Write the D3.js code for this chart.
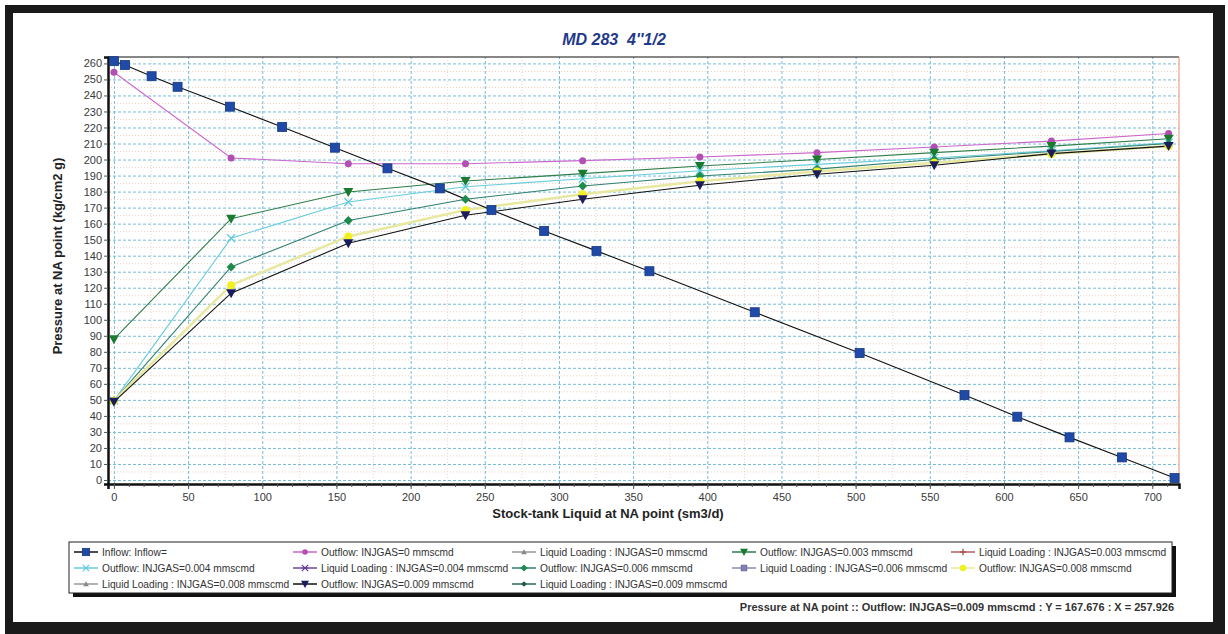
<!DOCTYPE html>
<html>
<head>
<meta charset="utf-8">
<script src="https://cdn.jsdelivr.net/npm/d3@7"></script>
<style>
  body { margin: 0; background: #fff; }
  svg { display: block; font-family: "Liberation Sans", Arial, sans-serif; }
</style>
</head>
<body>
<div id="chart"></div>
<script>
// MD 283 4"1/2 — nodal analysis: inflow vs outflow curves at NA point

var outflowX = [0, 79, 158, 237, 316, 395, 474, 553, 632, 711];

var inflowX = [0, 7.4, 25.4, 42.9, 78.2, 113.4, 149, 184.4, 219.7, 254.5, 290, 325.3, 361, 432, 502.7, 573.4, 609, 644.2, 679.5, 715];
var inflowY = [261.4, 259, 252, 245.4, 233, 220.3, 207.4, 194.5, 182, 168.5, 155.4, 143, 130.3, 104.7, 79.2, 53, 39.5, 26.6, 14.1, 1.2];

var outflow0   = [254.5, 201, 197.4, 197.4, 199.3, 201.6, 204.3, 207.8, 211.5, 216.3];
var outflow003 = [87.9, 163.1, 179.7, 186.6, 191.2, 196, 200, 204.3, 208.4, 213];
var outflow004 = [49.5, 150.9, 173.5, 183, 188, 193, 197, 201, 205.5, 210.5];
var outflow006 = [49.5, 133, 162, 175.2, 183.5, 189.7, 194, 200, 205, 210];
var outflow008 = [49.5, 121.6, 152, 168.5, 178.3, 186.5, 192.5, 198, 203.5, 208.5];
var outflow009 = [48.8, 116.6, 147.8, 165.2, 175.2, 184, 190.8, 196.4, 203.7, 208.4];

// liquid loading curves have no points on this plot (legend only)
var liquidLoading = [];

var xTicks = d3.range(0, 701, 50);
var yTicks = d3.range(0, 261, 10);

var series = [
    { name: "Inflow: Inflow=", x: inflowX, y: inflowY, line: "#111", marker: "square", fill: "#1f4aa8", size: 9 },
    { name: "Outflow: INJGAS=0 mmscmd", x: outflowX, y: outflow0, line: "#cc66cc", marker: "circle", fill: "#b24fb2", size: 7 },
    { name: "Liquid Loading : INJGAS=0 mmscmd", x: [], y: liquidLoading, line: "#999", marker: "triUp", fill: "#888", size: 7 },
    { name: "Outflow: INJGAS=0.003 mmscmd", x: outflowX, y: outflow003, line: "#2e7d4a", marker: "triDown", fill: "#1a7a30", size: 10 },
    { name: "Liquid Loading : INJGAS=0.003 mmscmd", x: [], y: liquidLoading, line: "#b06060", marker: "plus", fill: "#a04040", size: 8 },
    { name: "Outflow: INJGAS=0.004 mmscmd", x: outflowX, y: outflow004, line: "#66ccdd", marker: "cross", fill: "#5cc8e0", size: 8 },
    { name: "Liquid Loading : INJGAS=0.004 mmscmd", x: [], y: liquidLoading, line: "#6a4a9a", marker: "star", fill: "#6a3a9a", size: 8 },
    { name: "Outflow: INJGAS=0.006 mmscmd", x: outflowX, y: outflow006, line: "#2e8070", marker: "diamond", fill: "#1e8a4c", size: 9 },
    { name: "Liquid Loading : INJGAS=0.006 mmscmd", x: [], y: liquidLoading, line: "#8a8ab0", marker: "square", fill: "#8080c0", size: 7 },
    { name: "Outflow: INJGAS=0.008 mmscmd", x: outflowX, y: outflow008, line: "#e8e8a0", marker: "circle", fill: "#f2f020", size: 8, width: 2.5 },
    { name: "Liquid Loading : INJGAS=0.008 mmscmd", x: [], y: liquidLoading, line: "#999", marker: "triUp", fill: "#888", size: 7 },
    { name: "Outflow: INJGAS=0.009 mmscmd", x: outflowX, y: outflow009, line: "#111", marker: "triDown", fill: "#1c1c5c", size: 10 },
    { name: "Liquid Loading : INJGAS=0.009 mmscmd", x: [], y: liquidLoading, line: "#2a6a5a", marker: "diamond", fill: "#1e5a4a", size: 7 }
];

var totalW = 1228, totalH = 634;
var plot = { left: 108, top: 57, right: 1179, bottom: 484 };

var svg = d3.select("#chart").append("svg")
    .attr("width", totalW)
    .attr("height", totalH);

// --- Outer frame ---
svg.append("rect").attr("x", 5).attr("y", 5).attr("width", 1220).attr("height", 629).attr("fill", "#1a1a1a");
svg.append("rect").attr("x", 13).attr("y", 13).attr("width", 1200).attr("height", 609).attr("fill", "#fff");

// --- Scales ---
var x = d3.scaleLinear().domain([-4, 718]).range([plot.left, plot.right]);
var y = d3.scaleLinear().domain([-2.5, 264]).range([plot.bottom, plot.top]);

var g = svg.append("g");

// --- Grid: faint minor dotted + blue dashed major ---
g.selectAll(".ygrid-minor").data(d3.range(5, 261, 10)).enter().append("line")
    .attr("x1", plot.left).attr("x2", plot.right)
    .attr("y1", function(d) { return y(d); }).attr("y2", function(d) { return y(d); })
    .style("stroke", "#f0d0c4").style("stroke-dasharray", "1,2");

g.selectAll(".xgrid-minor").data(d3.range(25, 701, 50)).enter().append("line")
    .attr("y1", plot.top).attr("y2", plot.bottom)
    .attr("x1", function(d) { return x(d); }).attr("x2", function(d) { return x(d); })
    .style("stroke", "#f0d0c4").style("stroke-dasharray", "1,2");

g.append("g")
    .attr("transform", "translate(" + plot.left + ",0)")
    .call(d3.axisLeft(y).tickValues(yTicks).tickSize(-(plot.right - plot.left)).tickFormat(""))
    .call(function(s) { s.select(".domain").remove(); })
    .selectAll("line")
        .style("stroke", "#78bcd6")
        .style("stroke-dasharray", "3,2");

g.append("g")
    .attr("transform", "translate(0," + plot.bottom + ")")
    .call(d3.axisBottom(x).tickValues(xTicks).tickSize(-(plot.bottom - plot.top)).tickFormat(""))
    .call(function(s) { s.select(".domain").remove(); })
    .selectAll("line")
        .style("stroke", "#78bcd6")
        .style("stroke-dasharray", "3,2");

// --- Plot border ---
g.append("line").attr("x1", plot.left).attr("x2", plot.right).attr("y1", plot.top).attr("y2", plot.top)
    .style("stroke", "#111").style("stroke-width", 1.2);
g.append("line").attr("x1", plot.right).attr("x2", plot.right).attr("y1", plot.top).attr("y2", plot.bottom)
    .style("stroke", "#e89070").style("stroke-width", 1);

// --- Axes ---
var yAxis = g.append("g")
    .attr("transform", "translate(" + plot.left + ",0)")
    .call(d3.axisLeft(y).tickValues(yTicks).tickSize(4).tickPadding(2));
var xAxis = g.append("g")
    .attr("transform", "translate(0," + plot.bottom + ")")
    .call(d3.axisBottom(x).tickValues(xTicks).tickSize(5).tickPadding(4));
g.append("g")
    .attr("transform", "translate(0," + plot.bottom + ")")
    .call(d3.axisBottom(x).tickValues(d3.range(0, 711, 10)).tickSize(3).tickFormat(""))
    .call(function(s) { s.select(".domain").remove(); })
    .selectAll("line").style("stroke", "#555");

[yAxis, xAxis].forEach(function(a) {
    a.select(".domain").style("stroke", "#111").style("stroke-width", 2.5);
    a.selectAll(".tick line").style("stroke", "#555");
    a.selectAll("text")
        .style("font-size", "11px")
        .style("fill", "#3a3a3a")
        .style("font-family", "'Liberation Sans', Arial, sans-serif");
});

// --- Axis labels + title ---
svg.append("text")
    .attr("transform", "translate(62,256) rotate(-90)")
    .attr("text-anchor", "middle")
    .style("font-size", "13px")
    .style("font-weight", "bold")
    .style("fill", "#222")
    .text("Pressure at NA point (kg/cm2 g)");

svg.append("text")
    .attr("x", 608)
    .attr("y", 518)
    .attr("text-anchor", "middle")
    .style("font-size", "13px")
    .style("font-weight", "bold")
    .style("fill", "#222")
    .text("Stock-tank Liquid at NA point (sm3/d)");

svg.append("text")
    .attr("x", 614)
    .attr("y", 45)
    .attr("text-anchor", "middle")
    .style("font-size", "16px")
    .style("font-weight", "bold")
    .style("font-style", "italic")
    .style("white-space", "pre")
    .style("fill", "#1f3a8a")
    .text("MD 283  4''1/2");

// --- Marker drawing ---
function drawMarker(sel, s, cx, cy, scale) {
    var r = s.size / 2 * (scale || 1);
    var m;
    if (s.marker === "square") {
        m = sel.append("rect").attr("x", cx - r).attr("y", cy - r).attr("width", 2 * r).attr("height", 2 * r)
            .style("fill", s.fill).style("stroke", d3.color(s.fill).darker(0.8)).style("stroke-width", 0.8);
    } else if (s.marker === "circle") {
        m = sel.append("circle").attr("cx", cx).attr("cy", cy).attr("r", r).style("fill", s.fill);
    } else if (s.marker === "triDown" || s.marker === "triUp") {
        var k = s.marker === "triDown" ? 1 : -1;
        m = sel.append("path")
            .attr("d", "M" + (cx - r) + "," + (cy - k * r * 0.8) + "L" + (cx + r) + "," + (cy - k * r * 0.8) + "L" + cx + "," + (cy + k * r) + "Z")
            .style("fill", s.fill);
    } else if (s.marker === "diamond") {
        m = sel.append("path")
            .attr("d", "M" + cx + "," + (cy - r) + "L" + (cx + r) + "," + cy + "L" + cx + "," + (cy + r) + "L" + (cx - r) + "," + cy + "Z")
            .style("fill", s.fill);
    } else if (s.marker === "cross") {
        m = sel.append("path")
            .attr("d", "M" + (cx - r) + "," + (cy - r) + "L" + (cx + r) + "," + (cy + r) + "M" + (cx - r) + "," + (cy + r) + "L" + (cx + r) + "," + (cy - r))
            .style("stroke", s.fill).style("stroke-width", 1.2).style("fill", "none");
    } else if (s.marker === "plus") {
        m = sel.append("path")
            .attr("d", "M" + (cx - r) + "," + cy + "L" + (cx + r) + "," + cy + "M" + cx + "," + (cy - r) + "L" + cx + "," + (cy + r))
            .style("stroke", s.fill).style("stroke-width", 1.2).style("fill", "none");
    } else if (s.marker === "star") {
        m = sel.append("path")
            .attr("d", "M" + (cx - r) + "," + (cy - r) + "L" + (cx + r) + "," + (cy + r) + "M" + (cx - r) + "," + (cy + r) + "L" + (cx + r) + "," + (cy - r) +
                "M" + (cx - r) + "," + cy + "L" + (cx + r) + "," + cy)
            .style("stroke", s.fill).style("stroke-width", 1.2).style("fill", "none");
    }
    return m;
}

// --- Series lines and markers ---
var line = d3.line()
    .x(function(d) { return x(d[0]); })
    .y(function(d) { return y(d[1]); });

var drawOrder = [1, 3, 5, 7, 9, 11, 0];
drawOrder.forEach(function(i) {
    var s = series[i];
    var pts = s.x.map(function(v, j) { return [v, s.y[j]]; });
    if (!pts.length) return;
    g.append("path")
        .datum(pts)
        .attr("fill", "none")
        .attr("stroke", s.line)
        .attr("stroke-width", s.width || 1.1)
        .attr("d", line);
});
drawOrder.forEach(function(i) {
    var s = series[i];
    var mg = g.append("g");
    s.x.forEach(function(v, j) { drawMarker(mg, s, x(v), y(s.y[j])); });
});

// --- Legend ---
var lg = svg.append("g");
var lx = 69, ly = 542, lw = 1103, lh = 51;
lg.append("rect").attr("x", lx + 4).attr("y", ly + 4).attr("width", lw).attr("height", lh).attr("fill", "#111");
lg.append("rect").attr("x", lx).attr("y", ly).attr("width", lw).attr("height", lh)
    .attr("fill", "#fff").attr("stroke", "#222").attr("stroke-width", 1);

var colX = [74, 293, 512, 732, 951];
var rowY = [552, 568, 584];
series.forEach(function(s, i) {
    var cx = colX[i % 5], cy = rowY[Math.floor(i / 5)];
    lg.append("line")
        .attr("x1", cx).attr("x2", cx + 24).attr("y1", cy).attr("y2", cy)
        .style("stroke", s.line).style("stroke-width", 1.5);
    drawMarker(lg, s, cx + 12, cy, 0.8);
    lg.append("text")
        .attr("x", cx + 28)
        .attr("y", cy + 4)
        .style("font-size", "10.2px")
        .style("fill", "#333")
        .text(s.name);
});

// --- Status line ---
svg.append("text")
    .attr("x", 1174)
    .attr("y", 611)
    .attr("text-anchor", "end")
    .style("font-size", "11px")
    .style("font-weight", "bold")
    .style("fill", "#333")
    .text("Pressure at NA point :: Outflow: INJGAS=0.009 mmscmd : Y = 167.676 : X = 257.926");
</script>
</body>
</html>
